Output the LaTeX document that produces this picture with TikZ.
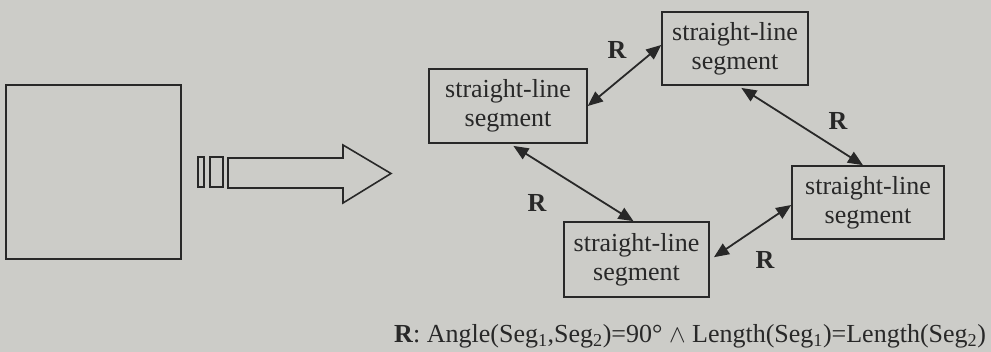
\documentclass[tikz,border=0pt]{standalone}
\usepackage{fontspec}
\setmainfont{Liberation Serif}
\usetikzlibrary{arrows.meta}
\definecolor{paper}{RGB}{204,204,200}
\definecolor{ink}{RGB}{40,40,40}
\tikzset{
  segbox/.style={draw=ink, line width=1.6pt, text=ink, align=center, inner sep=0pt,
    font=\fontsize{26}{29}\selectfont},
  rel/.style={draw=ink, line width=1.8pt, {Triangle[length=15pt,width=12.5pt]}-{Triangle[length=15pt,width=12.5pt]}},
  rlab/.style={text=ink, font=\fontsize{26}{29}\selectfont\bfseries},
  outline/.style={draw=ink, line width=1.6pt}
}
\begin{document}
\begin{tikzpicture}[x=1pt,y=-1pt]
\fill[paper] (0,0) rectangle (991,352);
\useasboundingbox (0,0) rectangle (991,352);
% input image square
\node[outline, minimum width=175pt, minimum height=174pt, inner sep=0pt] (img) at (93.5,172) {};
% transform arrow with bars
\draw[outline] (198,157) rectangle (204,187);
\draw[outline] (210,157) rectangle (223,187);
\draw[outline, line join=miter] (228,158) -- (343,158) -- (343,145) -- (391,173.5) -- (343,203) -- (343,188) -- (228,188) -- cycle;
% segments
\node[segbox, minimum width=158pt, minimum height=74pt] (A) at (508,106) {straight-line\\segment};
\node[segbox, minimum width=146pt, minimum height=73pt] (B) at (735,48.5) {straight-line\\segment};
\node[segbox, minimum width=152pt, minimum height=73pt] (C) at (868,202.5) {straight-line\\segment};
\node[segbox, minimum width=145pt, minimum height=75pt] (D) at (636.5,259.5) {straight-line\\segment};
% relations
\draw[rel] (A.east) -- ([yshift=3.5pt]B.west);
\draw[rel, shorten <=4pt] ([xshift=3pt]B.south) -- ([xshift=-5pt]C.north);
\draw[rel, shorten <=4pt] ([xshift=2pt]A.south) -- ([xshift=-3pt]D.north);
\draw[rel, shorten <=5pt] ([yshift=-0.5pt]D.east) -- ([yshift=-2.5pt]C.west);
\node[rlab] (r1) at (617,50) {R};
\node[rlab] (r2) at (838,121) {R};
\node[rlab] (r3) at (537,203) {R};
\node[rlab] (r4) at (765,260) {R};
% caption
\node[anchor=base west, inner sep=0pt, text=ink, font=\fontsize{26}{29}\selectfont] (cap) at (394,343)
  {\textbf{R}: Angle(Seg\textsubscript{1},Seg\textsubscript{2})=90°~$\wedge$~Length(Seg\textsubscript{1})=Length(Seg\textsubscript{2})};
\end{tikzpicture}
\end{document}
